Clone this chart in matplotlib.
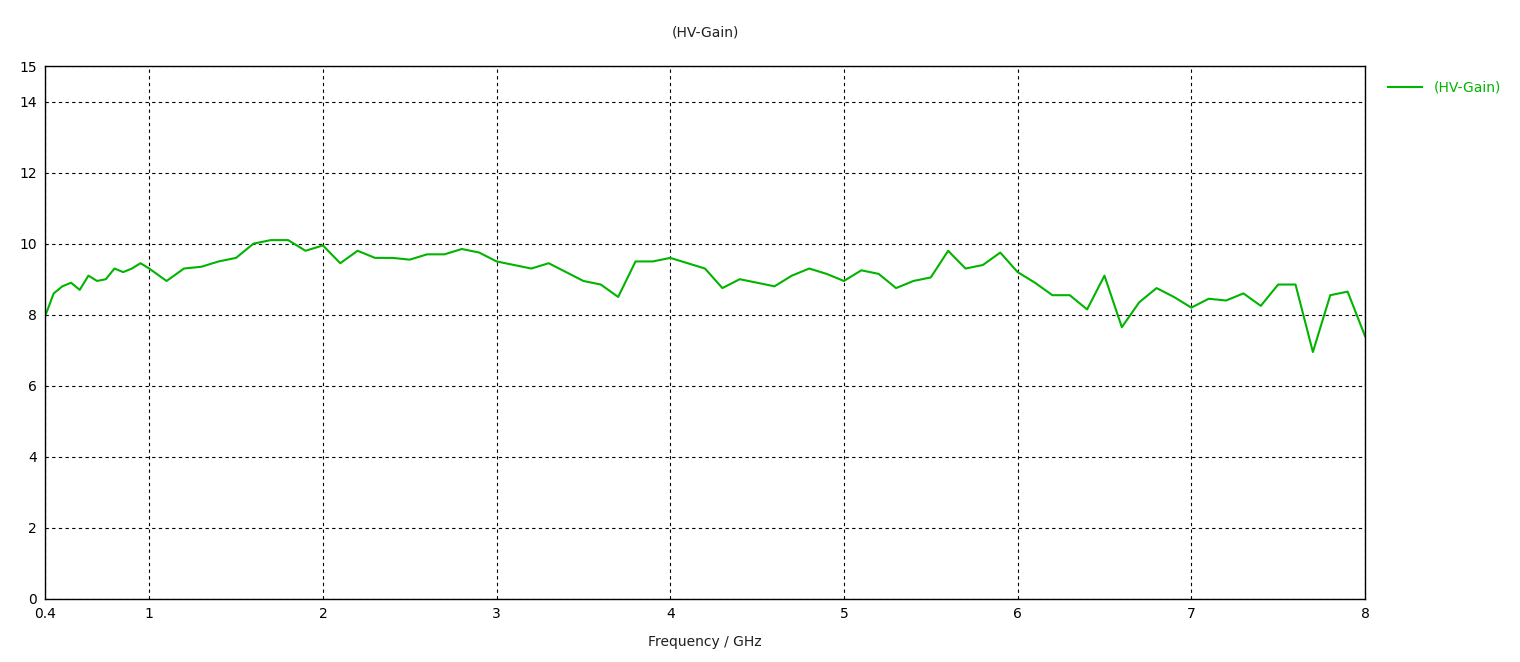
import matplotlib
matplotlib.use("Agg")
import matplotlib.pyplot as plt

freq = [0.4,0.45,0.5,0.55,0.6,0.65,0.7,0.75,0.8,0.85,0.9,0.95,1.0,1.1,1.2,1.3,1.4,1.5,1.6,1.7,1.8,1.9,
        2.0,2.1,2.2,2.3,2.4,2.5,2.6,2.7,2.8,2.9,3.0,3.1,3.2,3.3,3.4,3.5,3.6,3.7,3.8,3.9,
        4.0,4.1,4.2,4.3,4.4,4.5,4.6,4.7,4.8,4.9,5.0,5.1,5.2,5.3,5.4,5.5,5.6,5.7,5.8,5.9,
        6.0,6.1,6.2,6.3,6.4,6.5,6.6,6.7,6.8,6.9,7.0,7.1,7.2,7.3,7.4,7.5,7.6,7.7,7.8,7.9,8.0]
gain = [7.95,8.6,8.8,8.9,8.7,9.1,8.95,9.0,9.3,9.2,9.3,9.45,9.3,8.95,9.3,9.35,9.5,9.6,10.0,10.1,10.1,9.8,
        9.95,9.45,9.8,9.6,9.6,9.55,9.7,9.7,9.85,9.75,9.5,9.4,9.3,9.45,9.2,8.95,8.85,8.5,9.5,9.5,
        9.6,9.45,9.3,8.75,9.0,8.9,8.8,9.1,9.3,9.15,8.95,9.25,9.15,8.75,8.95,9.05,9.8,9.3,9.4,9.75,
        9.2,8.9,8.55,8.55,8.15,9.1,7.65,8.35,8.75,8.5,8.2,8.45,8.4,8.6,8.25,8.85,8.85,6.95,8.55,8.65,7.4]
xticks = [0.4,1,2,3,4,5,6,7,8]
xlabels = ["0.4","1","2","3","4","5","6","7","8"]
yticks = [0,2,4,6,8,10,12,14,15]

fig = plt.figure(figsize=(15.2,6.62), dpi=100)
ax = fig.add_axes([45/1520, 1-599/662, 1320/1520, 533/662])
ax.plot(freq, gain, color="#00b400", lw=1.5, label="(HV-Gain)")
ax.set_xlim(0.4,8); ax.set_ylim(0,15)
ax.set_xticks(xticks); ax.set_xticklabels(xlabels)
ax.set_yticks(yticks)
ax.grid(True, color="black", ls=(0,(3,3)), lw=0.8)
ax.tick_params(length=0, labelsize=10, pad=6)
ax.set_xlabel("Frequency / GHz", fontsize=10, color="#202020", labelpad=10)
for s in ax.spines.values(): s.set_linewidth(1)
fig.text(705/1520, 1-33/662, "(HV-Gain)", ha="center", va="center", fontsize=10, color="#202020")
fig.legend(loc="upper left", bbox_to_anchor=(1375/1520, 1-68/662), frameon=False,
           fontsize=10, labelcolor="#00b400", handlelength=2.5)
fig.savefig("out.png")
